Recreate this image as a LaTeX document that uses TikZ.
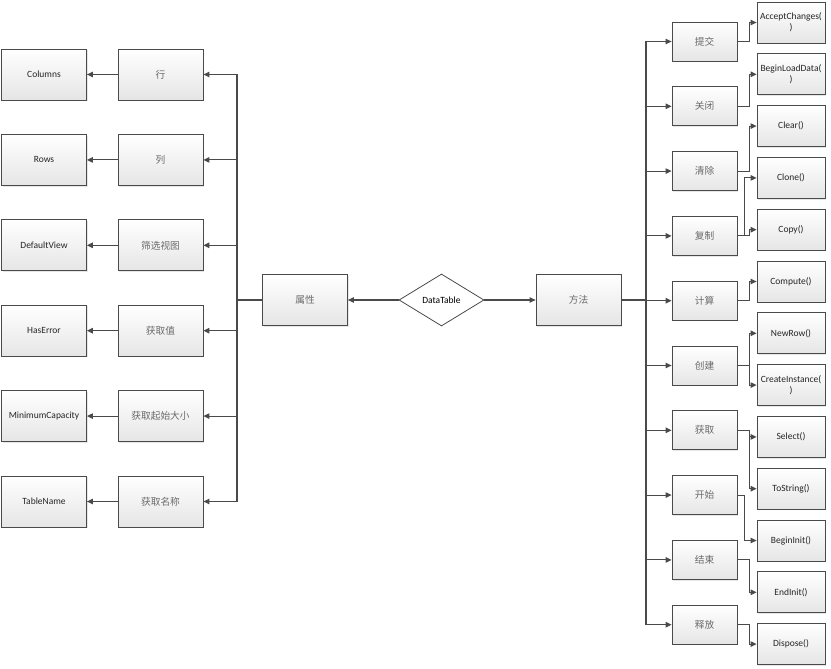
\documentclass[tikz,border=0pt]{standalone}
\usepackage{fontspec}
\setmainfont{Carlito}
\newfontfamily\cjk{Noto Sans CJK SC}
\usetikzlibrary{positioning, shapes.geometric, arrows.meta, shadows}
\definecolor{edge}{HTML}{4A4A4A}
\definecolor{cntext}{HTML}{6A6A6A}

\begin{document}
\begin{tikzpicture}[x=1pt, y=-1pt,
  box/.style={draw=edge, line width=0.8pt, top color=white, bottom color=black!10,
              inner sep=1pt, align=center, text=black!85,
              font=\fontsize{9.5}{11}\selectfont,
              drop shadow={opacity=0.2, shadow xshift=1.2pt, shadow yshift=-1.2pt}},
  big/.style={box, minimum width=85pt, minimum height=51pt},
  mid/.style={box, minimum width=65pt, minimum height=39pt},
  leaf/.style={box, minimum width=68pt, minimum height=41pt},
  cn/.style={font=\cjk\fontsize{9.7}{11}\selectfont, text=cntext},
  link/.style={draw=edge, line width=1.1pt},
  arrow/.style={link, -{Triangle[length=6pt, width=5.5pt]}}
]
\useasboundingbox (0,0) rectangle (831,669);

% centre
\node[diamond, draw=edge, line width=0.8pt, fill=white, minimum width=85pt,
      minimum height=52pt, inner sep=0pt, font=\fontsize{9.5}{11}\selectfont] (dt) at (441.5,300) {DataTable};
\node[big, cn] (attr) at (305,300) {属性};
\node[big, cn] (meth) at (578.5,300) {方法};
\draw[arrow] (dt) -- (attr);
\draw[arrow] (dt) -- (meth);

% properties
\node[big, cn] (p1) at (160.5,74.5) {行};
\node[big, cn] (p2) at (160.5,159.9) {列};
\node[big, cn] (p3) at (160.5,245.3) {筛选视图};
\node[big, cn] (p4) at (160.5,330.7) {获取值};
\node[big, cn] (p5) at (160.5,416.1) {获取起始大小};
\node[big, cn] (p6) at (160.5,501.5) {获取名称};
\node[big] (v1) at (44,74.5) {Columns};
\node[big] (v2) at (44,159.9) {Rows};
\node[big] (v3) at (44,245.3) {DefaultView};
\node[big] (v4) at (44,330.7) {HasError};
\node[big] (v5) at (44,416.1) {MinimumCapacity};
\node[big] (v6) at (44,501.5) {TableName};

\coordinate (trunkL) at (237,300);
\draw[link] (attr.west) -- (trunkL);
\draw[link] (trunkL |- p1.east) -- (trunkL |- p6.east);
\foreach \i in {1,...,6}{
  \draw[arrow] (trunkL |- p\i.east) -- (p\i.east);
  \draw[arrow] (p\i.west) -- (v\i.east);
}

% methods
\node[mid, cn] (m1) at (704.5,41.5) {提交};
\node[mid, cn] (m2) at (704.5,106.3) {关闭};
\node[mid, cn] (m3) at (704.5,171.1) {清除};
\node[mid, cn] (m4) at (704.5,235.9) {复制};
\node[mid, cn] (m5) at (704.5,300.7) {计算};
\node[mid, cn] (m6) at (704.5,365.5) {创建};
\node[mid, cn] (m7) at (704.5,430.3) {获取};
\node[mid, cn] (m8) at (704.5,495.1) {开始};
\node[mid, cn] (m9) at (704.5,559.9) {结束};
\node[mid, cn] (m10) at (704.5,624.7) {释放};

\node[leaf] (f1) at (791,22.5) {AcceptChanges(\\)};
\node[leaf] (f2) at (791,74.3) {BeginLoadData(\\)};
\node[leaf] (f3) at (791,126.1) {Clear()};
\node[leaf] (f4) at (791,177.9) {Clone()};
\node[leaf] (f5) at (791,229.7) {Copy()};
\node[leaf] (f6) at (791,281.5) {Compute()};
\node[leaf] (f7) at (791,333.3) {NewRow()};
\node[leaf] (f8) at (791,385.1) {CreateInstance(\\)};
\node[leaf] (f9) at (791,436.9) {Select()};
\node[leaf] (f10) at (791,488.7) {ToString()};
\node[leaf] (f11) at (791,540.5) {BeginInit()};
\node[leaf] (f12) at (791,592.3) {EndInit()};
\node[leaf] (f13) at (791,644.1) {Dispose()};

\coordinate (trunkR) at (646,300);
\draw[link] (meth.east) -- (trunkR);
\draw[link] (trunkR |- m1.west) -- (trunkR |- m10.west);
\foreach \i in {1,...,10}
  \draw[arrow] (trunkR |- m\i.west) -- (m\i.west);

\draw[arrow] (m1.east) -- ++(12,0) |- (f1.west);
\draw[arrow] (m2.east) -- ++(12,0) |- (f2.west);
\draw[arrow] (m3.east) -- ++(12,0) |- (f3.west);
\draw[arrow] (m4.east) -- ++(7,0) |- (f4.west);
\draw[arrow] (m4.east) -- ++(12,0) |- (f5.west);
\draw[arrow] (m5.east) -- ++(12,0) |- (f6.west);
\draw[arrow] (m6.east) -- ++(12,0) |- (f7.west);
\draw[arrow] (m6.east) -- ++(12,0) |- (f8.west);
\draw[arrow] (m7.east) -- ++(12,0) |- (f9.west);
\draw[arrow] (m7.east) -- ++(12,0) |- (f10.west);
\draw[arrow] (m8.east) -- ++(7,0) |- (f11.west);
\draw[arrow] (m9.east) -- ++(12,0) |- (f12.west);
\draw[arrow] (m10.east) -- ++(12,0) |- (f13.west);
\end{tikzpicture}
\end{document}
